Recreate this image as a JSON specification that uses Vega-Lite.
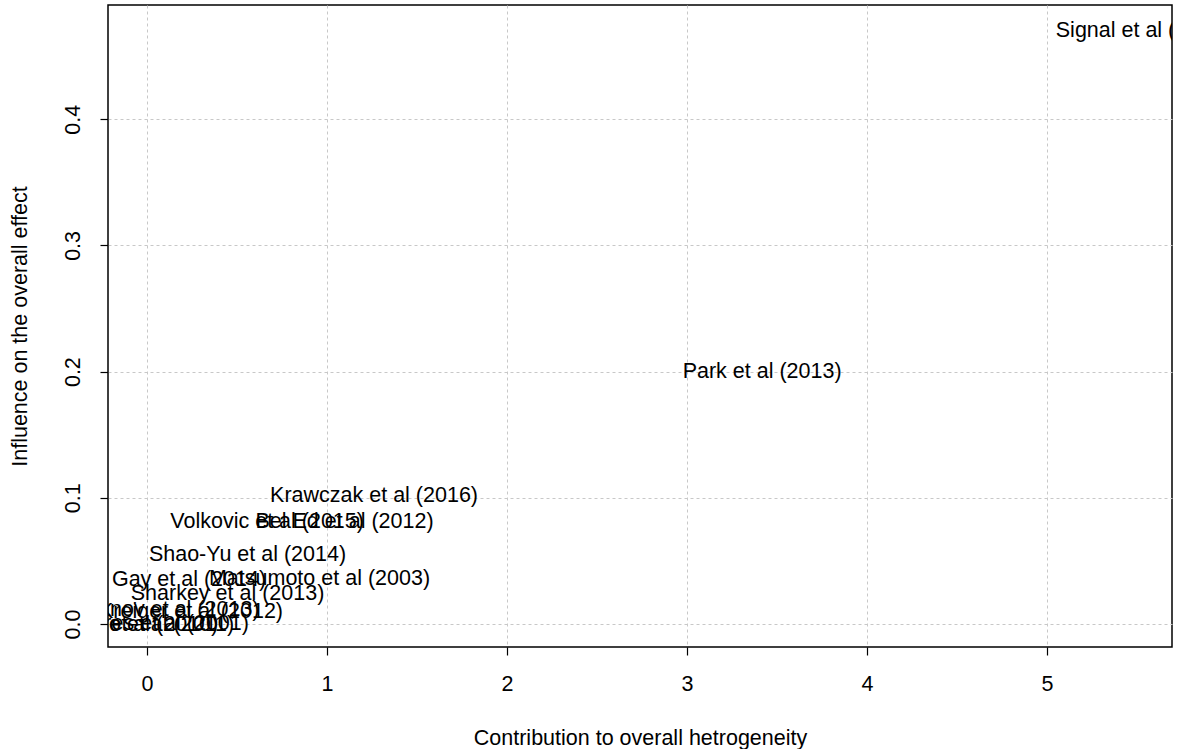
{
  "$schema": "https://vega.github.io/schema/vega-lite/v6.json",
  "width": 1064,
  "height": 642,
  "autosize": {"type": "none"},
  "padding": {"left": 108, "top": 5, "right": 17, "bottom": 102},
  "background": "white",
  "config": {
    "view": {"stroke": "#000", "strokeWidth": 1.5},
    "font": "Liberation Sans",
    "axis": {
      "domain": false,
      "tickColor": "#000",
      "tickSize": 8,
      "tickWidth": 1.2,
      "labelColor": "#000",
      "labelFont": "Liberation Sans",
      "labelFontSize": 21.5,
      "titleColor": "#000",
      "titleFont": "Liberation Sans",
      "titleFontSize": 21.5,
      "titleFontWeight": "normal",
      "grid": true,
      "gridColor": "#c8c8c8",
      "gridDash": [3, 3],
      "gridWidth": 1
    }
  },
  "data": {
    "values": [
      {"study": "Signal et al (2015)", "x": 5.533, "y": 0.4716},
      {"study": "Park et al (2013)", "x": 3.417, "y": 0.2013},
      {"study": "Krawczak et al (2016)", "x": 1.261, "y": 0.103},
      {"study": "Volkovic et al (2015)", "x": 0.667, "y": 0.0824},
      {"study": "Bel Ed et al (2012)", "x": 1.097, "y": 0.0824},
      {"study": "Shao-Yu et al (2014)", "x": 0.558, "y": 0.0563},
      {"study": "Matsumoto et al (2003)", "x": 0.958, "y": 0.0372},
      {"study": "Gay et al (2014)", "x": 0.233, "y": 0.0365},
      {"study": "Sharkey et al (2013)", "x": 0.447, "y": 0.0254},
      {"study": "Kreiger et al (2012)", "x": 0.244, "y": 0.011},
      {"study": "Ivanov et al (2013)", "x": 0.13, "y": 0.0125},
      {"study": "Soares et al (2001)", "x": 0.058, "y": 0.002},
      {"study": "Otero et al (2011)", "x": 0.02, "y": 0.0005},
      {"study": "Ito et al (2010)", "x": 0.01, "y": 0.001}
    ]
  },
  "mark": {"type": "text", "fontSize": 21.5, "font": "Liberation Sans", "color": "#000", "clip": true, "align": "center", "baseline": "middle", "dy": 2},
  "encoding": {
    "x": {
      "field": "x",
      "type": "quantitative",
      "scale": {"domain": [-0.217, 5.694], "nice": false, "zero": false},
      "axis": {
        "title": "Contribution to overall hetrogeneity",
        "values": [0, 1, 2, 3, 4, 5],
        "format": "d",
        "labelPadding": 18,
        "titlePadding": 33
      }
    },
    "y": {
      "field": "y",
      "type": "quantitative",
      "scale": {"domain": [-0.0182, 0.4905], "nice": false, "zero": false},
      "axis": {
        "title": "Influence on the overall effect",
        "values": [0, 0.1, 0.2, 0.3, 0.4],
        "format": ".1f",
        "labelAngle": -90,
        "labelAlign": "center",
        "labelBaseline": "bottom",
        "labelPadding": 16,
        "titlePadding": 31
      }
    },
    "text": {"field": "study"}
  }
}
